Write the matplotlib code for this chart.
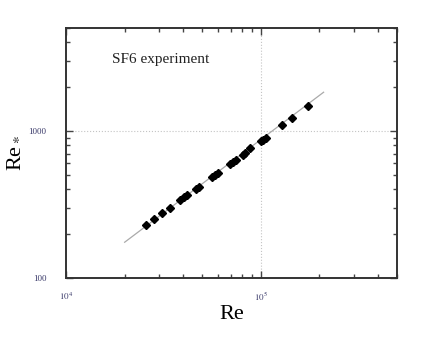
import matplotlib
matplotlib.use('Agg')
import matplotlib.pyplot as plt
from matplotlib.ticker import LogLocator, NullFormatter, FixedLocator

# measured points (Re, Re*)
re_pts = [2.56e4, 2.84e4, 3.12e4, 3.41e4, 3.86e4, 4.03e4, 4.17e4, 4.64e4, 4.79e4,
          5.61e4, 5.81e4, 6.0e4, 6.93e4, 7.16e4, 7.42e4, 8.09e4, 8.31e4, 8.85e4,
          1.0e5, 1.03e5, 1.06e5, 1.29e5, 1.44e5, 1.75e5]
res_pts = [229, 253, 278, 301, 338, 354, 365, 401, 414,
           484, 500, 516, 597, 613, 632, 687, 709, 762,
           851, 868, 900, 1094, 1225, 1472]

# fit line endpoints
line_re = [2.0e4, 2.1e5]
line_res = [175, 1830]

x_ticks = [1e4, 1e5]
x_labels = ['$10^4$', '$10^5$']
y_ticks = [100, 1000]
y_labels = ['100', '1000']

plt.rcParams['font.family'] = ['Liberation Serif', 'DejaVu Serif']
plt.rcParams['mathtext.fontset'] = 'stix'

fig = plt.figure(figsize=(4.32, 3.58), dpi=100)
ax = fig.add_axes([66/432, 1-278/358, (397-66)/432, (278-28)/358])

ax.set_xscale('log')
ax.set_yscale('log')
ax.set_xlim(1e4, 5e5)
ax.set_ylim(100, 5000)

ax.plot(line_re, line_res, color='#aaaaaa', lw=0.9, zorder=2)
ax.plot(re_pts, res_pts, 'D', color='black', markersize=4.3, zorder=3)

ax.axvline(1e5, color='#c4c4c4', ls=':', lw=0.8, zorder=1)
ax.axhline(1000, color='#c4c4c4', ls=':', lw=0.8, zorder=1)

ax.xaxis.set_major_locator(FixedLocator(x_ticks))
ax.set_xticklabels(x_labels)
ax.yaxis.set_major_locator(FixedLocator(y_ticks))
ax.set_yticklabels(y_labels)
ax.xaxis.set_minor_locator(LogLocator(base=10, subs=range(2, 10)))
ax.yaxis.set_minor_locator(LogLocator(base=10, subs=range(2, 10)))
ax.xaxis.set_minor_formatter(NullFormatter())
ax.yaxis.set_minor_formatter(NullFormatter())

ax.tick_params(which='both', direction='in', top=True, right=True,
               color='#444444', width=1.0)
ax.tick_params(which='major', length=5)
ax.tick_params(which='minor', length=3)
ax.tick_params(axis='x', which='major', pad=9, labelsize=6.5, labelcolor='#3a3a6a')
ax.tick_params(axis='y', which='major', pad=14, labelsize=6.5, labelcolor='#3a3a6a')

for s in ax.spines.values():
    s.set_linewidth(1.4)
    s.set_color('#333333')

ax.text(0.14, 0.86, 'SF6 experiment', transform=ax.transAxes, fontsize=11,
        color='#222222')

ax.set_xlabel('Re', fontsize=16, labelpad=2)
ax.set_ylabel('Re$_*$', fontsize=16, labelpad=4)

plt.savefig('out.png', dpi=100)
